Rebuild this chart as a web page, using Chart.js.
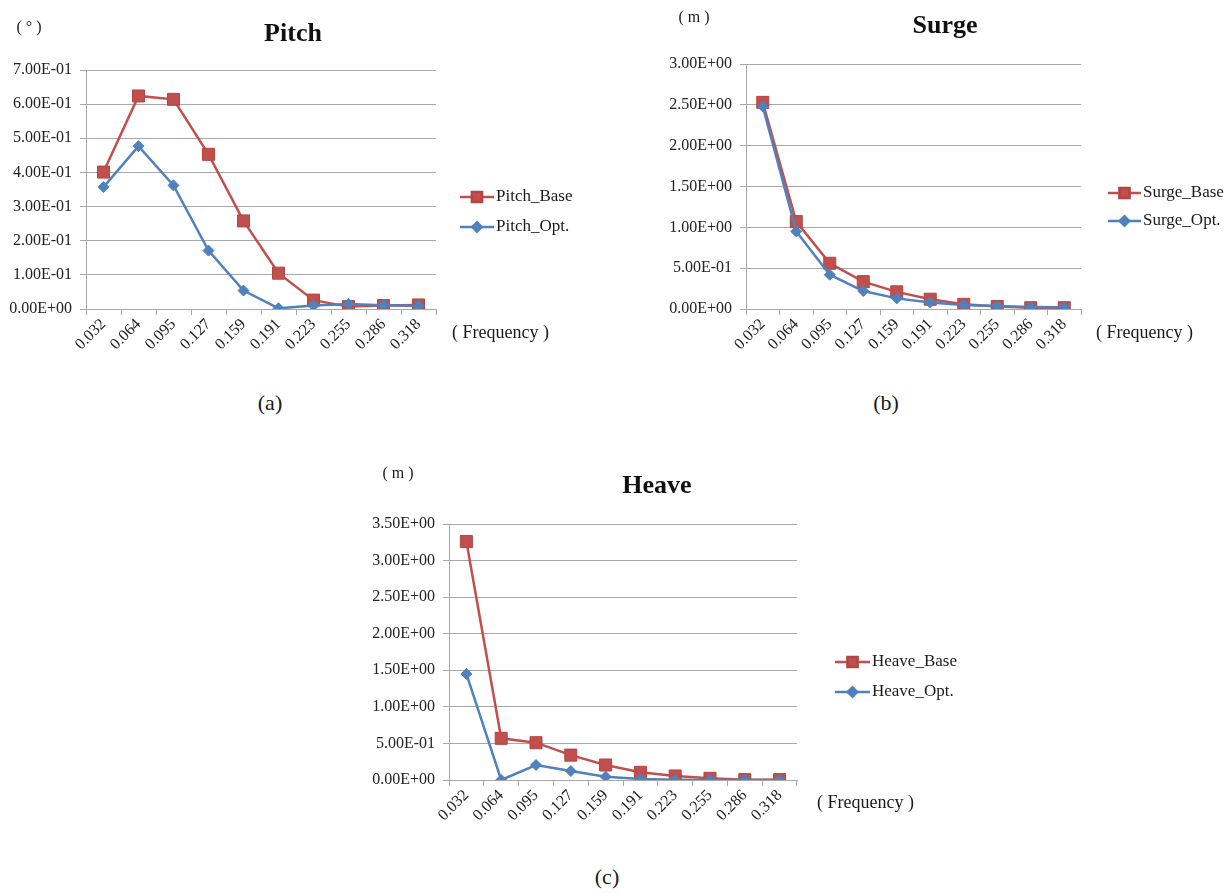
<!DOCTYPE html>
<html><head><meta charset="utf-8">
<script src="https://cdn.jsdelivr.net/npm/chart.js@4.4.1/dist/chart.umd.min.js"></script>
<style>
body{margin:0;background:#fff;width:1229px;height:893px;position:relative;overflow:hidden;font-family:"Liberation Serif","Times New Roman",serif;color:#1a1a1a}
canvas{position:absolute}
.t{position:absolute;white-space:nowrap;transform:translate(-50%,-50%)}
.l{position:absolute;white-space:nowrap;transform:translateY(-50%)}
.title{font-weight:bold;font-size:26px;color:#111}
.unit{font-size:16px}
.freq{font-size:18px}
.cap{font-size:22px}
</style></head><body>
<canvas id="cPitch" width="600" height="390" style="left:0;top:0"></canvas>
<canvas id="cSurge" width="619" height="390" style="left:610px;top:0"></canvas>
<canvas id="cHeave" width="660" height="400" style="left:340px;top:440px"></canvas>

<div class="t title" style="left:293px;top:33px">Pitch</div>
<div class="t unit" style="left:29px;top:27px">( ° )</div>
<div class="l freq" style="left:452px;top:332px">( Frequency )</div>
<div class="t cap" style="left:270px;top:403px">(a)</div>

<div class="t title" style="left:945px;top:25px">Surge</div>
<div class="t unit" style="left:694px;top:17px">( m )</div>
<div class="l freq" style="left:1096px;top:332px">( Frequency )</div>
<div class="t cap" style="left:886px;top:403px">(b)</div>

<div class="t title" style="left:657px;top:485px">Heave</div>
<div class="t unit" style="left:398px;top:473px">( m )</div>
<div class="l freq" style="left:817px;top:802px">( Frequency )</div>
<div class="t cap" style="left:607px;top:877px">(c)</div>

<script>
// ---- data ----
const frequencies = ['0.032','0.064','0.095','0.127','0.159','0.191','0.223','0.255','0.286','0.318'];
const pitchBase = [0.401,0.624,0.614,0.453,0.258,0.105,0.026,0.007,0.010,0.012];
const pitchOpt  = [0.357,0.477,0.362,0.171,0.054,0.002,0.010,0.015,0.011,0.009];
const surgeBase = [2.53,1.07,0.56,0.335,0.21,0.12,0.057,0.03,0.016,0.016];
const surgeOpt  = [2.48,0.95,0.42,0.22,0.13,0.08,0.05,0.037,0.025,0.02];
const heaveBase = [3.26,0.57,0.51,0.34,0.205,0.105,0.055,0.023,0.005,0.005];
const heaveOpt  = [1.45,0.0,0.205,0.123,0.046,0.014,0.002,0.0,0.0,0.0];
const pitchTicks = [0,0.1,0.2,0.3,0.4,0.5,0.6,0.7];
const surgeTicks = [0,0.5,1.0,1.5,2.0,2.5,3.0];
const heaveTicks = [0,0.5,1.0,1.5,2.0,2.5,3.0,3.5];

const FONT = '"Liberation Serif","Times New Roman",serif';
const RED = '#C0504D', BLUE = '#4F81BD', GRID = '#A8A8A8';

function sci(v){
  const s = Number(v).toExponential(2).split('e');
  const e = parseInt(s[1],10);
  return s[0] + 'E' + (e<0?'-':'+') + String(Math.abs(e)).padStart(2,'0');
}

const lineLegend = {
  id:'lineLegend',
  afterDraw(chart, args, o){
    const ctx = chart.ctx;
    chart.data.datasets.forEach((ds,i)=>{
      const y = o.y + i*o.gap, x0 = o.x;
      ctx.save();
      ctx.strokeStyle = ds.borderColor; ctx.lineWidth = ds.borderWidth;
      ctx.beginPath(); ctx.moveTo(x0,y); ctx.lineTo(x0+o.len,y); ctx.stroke();
      ctx.fillStyle = ds.pointBackgroundColor; ctx.strokeStyle = ds.pointBorderColor;
      Chart.helpers.drawPoint(ctx,{pointStyle:ds.pointStyle,rotation:0,radius:ds.pointRadius*0.85,borderWidth:1},x0+o.len/2,y);
      ctx.fillStyle = '#1a1a1a'; ctx.font = '17px '+FONT; ctx.textBaseline='middle'; ctx.textAlign='left';
      ctx.fillText(ds.label, x0+o.len+2, y);
      ctx.restore();
    });
  }
};

function make(id, names, base, opt, ticks, L){
  const step = ticks[1]-ticks[0];
  new Chart(document.getElementById(id), {
    type:'line',
    data:{labels:frequencies, datasets:[
      {label:names[0], data:base, borderColor:RED, borderWidth:2.5, pointStyle:'rect', pointRadius:8.5,
       pointBackgroundColor:RED, pointBorderColor:'#B54542', pointBorderWidth:1, tension:0, order:2},
      {label:names[1], data:opt, borderColor:BLUE, borderWidth:2.5, pointStyle:'rectRot', pointRadius:5.5,
       pointBackgroundColor:BLUE, pointBorderColor:BLUE, pointBorderWidth:1, tension:0, order:1}
    ]},
    options:{
      responsive:false, animation:false, devicePixelRatio:1,
      layout:{padding:{left:0, top:L.top, right:L.right, bottom:0}},
      plugins:{legend:{display:false}, tooltip:{enabled:false}, lineLegend:L.legend},
      scales:{
        x:{type:'category', offset:true,
           grid:{display:true, drawOnChartArea:false, drawTicks:true, tickLength:6, color:GRID, offset:true},
           border:{display:true, color:GRID},
           ticks:{autoSkip:false, minRotation:45, maxRotation:45, padding:0, color:'#222', font:{family:FONT, size:16}},
           afterFit(s){ s.height = L.xH; }},
        y:{min:ticks[0], max:ticks[ticks.length-1],
           grid:{color:GRID, drawTicks:true, tickLength:6},
           border:{display:true, color:GRID},
           ticks:{stepSize:step, padding:8, color:'#222', font:{family:FONT, size:16}, callback:v=>sci(v)},
           afterFit(s){ s.width = L.yW; }}
      }
    },
    plugins:[lineLegend]
  });
}

make('cPitch', ['Pitch_Base','Pitch_Opt.'], pitchBase, pitchOpt, pitchTicks,
  {top:70, right:164, xH:81, yW:86, legend:{x:460, y:197, gap:30, len:34}});
make('cSurge', ['Surge_Base','Surge_Opt.'], surgeBase, surgeOpt, surgeTicks,
  {top:64, right:148, xH:81, yW:136, legend:{x:498, y:193, gap:28, len:33}});
make('cHeave', ['Heave_Base','Heave_Opt.'], heaveBase, heaveOpt, heaveTicks,
  {top:84, right:203, xH:60, yW:109, legend:{x:495, y:222, gap:30, len:35}});
</script>
</body></html>
